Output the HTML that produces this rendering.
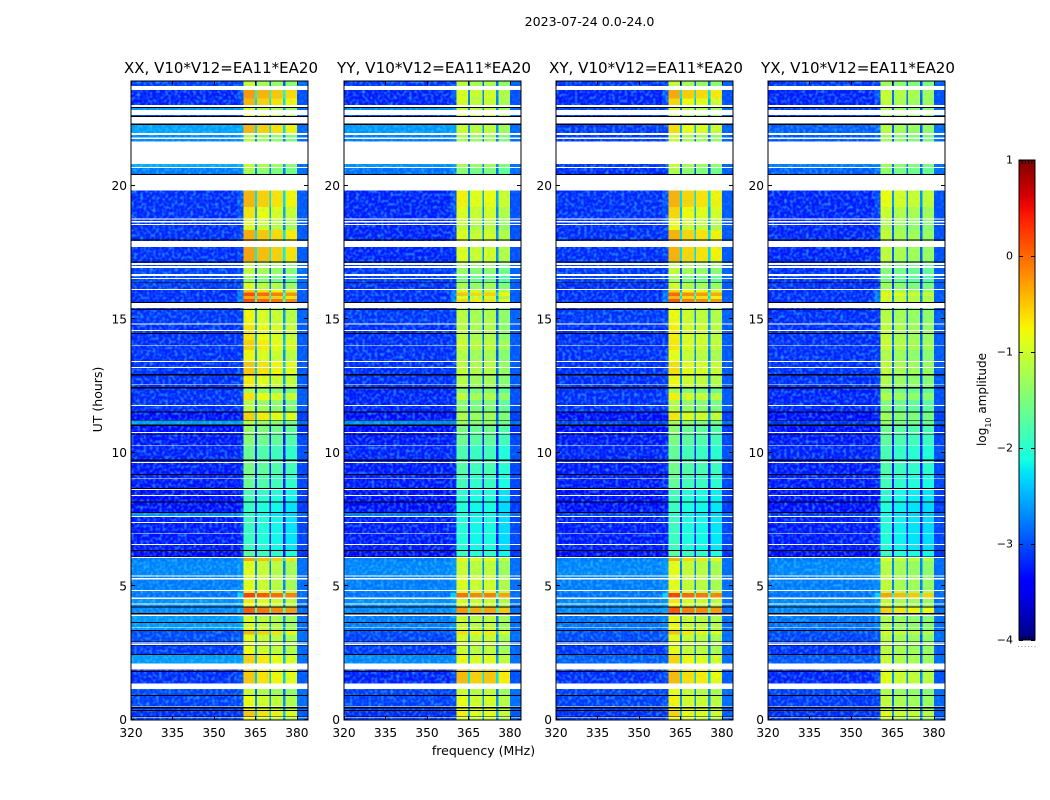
<!DOCTYPE html>
<html lang="en">
<head>
<meta charset="utf-8">
<title>2023-07-24 dynamic spectra</title>
<style>
html,body{margin:0;padding:0;background:#fff;}
svg{display:block;}
text{font-family:"DejaVu Sans","Liberation Sans",sans-serif;fill:#000;}
</style>
</head>
<body>
<svg id="chart" xmlns="http://www.w3.org/2000/svg" width="1050" height="800" viewBox="0 0 1050 800">
  <defs>
    <filter id="speckle" x="0" y="0" width="100%" height="100%">
      <feTurbulence type="fractalNoise" baseFrequency="0.32" numOctaves="1" seed="4"/>
      <feColorMatrix type="matrix" values="0 0 0 0 0.05  0 0 0 0 0.72  0 0 0 0 1  2.6 0 0 0 -1.1"/>
    </filter>
    <linearGradient id="jet-gradient" x1="0" y1="1" x2="0" y2="0"></linearGradient>
  </defs>
  <text x="589.5" y="26" text-anchor="middle" font-size="12.6">2023-07-24 0.0-24.0</text>
  <text x="483.5" y="755" text-anchor="middle" font-size="12.5">frequency (MHz)</text>
  <text transform="translate(102,399.5) rotate(-90)" text-anchor="middle" font-size="12.5">UT (hours)</text>
  <text transform="translate(986,399.5) rotate(-90)" text-anchor="middle" font-size="12">log<tspan baseline-shift="sub" font-size="8">10</tspan> amplitude</text>
  <g id="panels"></g>
  <g id="colorbar"></g>
</svg>
<script>
// ---------- Data (log10 amplitude per UT row, top of the plot to the bottom) ----------
const panelTitles = ["XX, V10*V12=EA11*EA20", "YY, V10*V12=EA11*EA20", "XY, V10*V12=EA11*EA20", "YX, V10*V12=EA11*EA20"];
const freqTicks = [320, 335, 350, 365, 380];
const utTicks = [0, 5, 10, 15, 20];
const colorbarTicks = [1, 0, -1, -2, -3, -4];

// UT hour at which each row starts (its top); each row runs down to the next entry.
const utRowTop = [23.93,23.58,23.25,22.94,22.64,22.26,21.96,20.80,20.65,19.81,19.20,18.76,18.33,17.70,17.17,17.10,16.61,16.34,16.08,16.00,15.86,15.75,15.42,15.34,14.80,14.22,13.84,13.39,12.88,12.39,12.23,11.97,11.49,11.19,10.99,10.67,10.27,9.69,9.16,8.63,8.13,7.74,7.58,6.95,6.31,6.05,5.94,5.36,4.81,4.74,4.52,4.31,4.20,3.88,3.31,3.18,2.76,2.42,1.88,1.14,0.88,0.31,0.08];

// Background level, 320-358 MHz
const lowXX = [-3.1,-3.25,-3.25,-2.65,-3.1,-2.6,-2.75,-2.55,-2.8,-3.2,-3.2,-3.2,-3.2,-3.2,-3.2,-3.1,-3.1,-3.15,-3.2,-3.2,-3.2,-3.2,-3.2,-3.15,-3.2,-3.2,-3.2,-3.2,-3.2,-3.2,-3.2,-3.2,-3.35,-2.65,-3.4,-3.3,-3.25,-3.3,-3.3,-3.35,-3.35,-2.7,-3.3,-3.3,-3.4,-2.8,-2.75,-2.8,-2.8,-2.85,-2.7,-2.75,-2.75,-2.65,-3.05,-3.05,-3.15,-2.65,-3.2,-3.05,-3.1,-3.2,-3.1];
const lowYY = [-3.15,-3.25,-3.25,-2.7,-3.1,-2.65,-2.8,-2.7,-2.85,-3.25,-3.25,-3.25,-3.25,-3.25,-3.2,-3.15,-3.15,-3.2,-3.2,-3.2,-3.2,-3.2,-3.2,-3.15,-3.2,-3.2,-3.2,-3.2,-3.2,-3.25,-3.25,-3.25,-3.35,-2.75,-3.4,-3.3,-3.25,-3.3,-3.3,-3.35,-3.35,-2.8,-3.3,-3.3,-3.4,-2.8,-2.75,-2.8,-2.8,-2.85,-2.7,-2.75,-2.75,-2.8,-3.05,-3.1,-3.15,-2.75,-3.25,-3.1,-3.1,-3.2,-3.15];
const lowXY = [-3.15,-3.25,-3.25,-3.1,-3.15,-3.15,-3.15,-3.15,-3.2,-3.2,-3.2,-3.2,-3.2,-3.2,-3.2,-3.15,-3.15,-3.2,-3.2,-3.2,-3.2,-3.2,-3.2,-3.15,-3.2,-3.2,-3.2,-3.2,-3.2,-3.2,-3.2,-3.2,-3.35,-3.1,-3.4,-3.3,-3.25,-3.3,-3.3,-3.35,-3.35,-3.1,-3.3,-3.3,-3.4,-2.8,-2.75,-2.8,-2.8,-2.85,-2.75,-2.75,-2.75,-2.85,-3.05,-3.05,-3.15,-2.95,-3.2,-3.1,-3.1,-3.2,-3.15];
const lowYX = [-3.15,-3.25,-3.25,-3.1,-3.15,-2.95,-3,-2.8,-2.95,-3.25,-3.25,-3.25,-3.25,-3.25,-3.2,-3.2,-3.2,-3.2,-3.2,-3.2,-3.2,-3.2,-3.2,-3.2,-3.2,-3.2,-3.2,-3.2,-3.2,-3.25,-3.25,-3.25,-3.35,-3.15,-3.4,-3.3,-3.25,-3.3,-3.3,-3.35,-3.35,-3.15,-3.3,-3.3,-3.4,-2.8,-2.75,-2.8,-2.8,-2.85,-2.75,-2.75,-2.75,-2.85,-3.05,-3.1,-3.2,-3,-3.25,-3.1,-3.15,-3.2,-3.15];

// Mean level of the bright 361-380 MHz sub-bands
const highXX = [-1.25,-0.45,-0.6,-1.1,-1,-0.6,-1.3,-1.2,-1.4,-0.6,-0.85,-1.05,-0.55,-0.5,-1,-1.25,-1.5,-1.1,-0.7,-0.05,-0.5,0,-1.2,-0.95,-0.85,-0.75,-0.95,-0.7,-0.9,-1.4,-0.85,-1.3,-0.75,-1.3,-1.5,-1.6,-1.8,-1.7,-1.8,-2,-2.1,-2.2,-2.1,-2.1,-1.9,-0.5,-1.05,-1.05,-0.9,0.05,-0.9,-1,-0.1,-1.1,-0.6,-1.05,-1,-0.75,-0.7,-1.2,-1,-0.7,-1];
const highYY = [-1.2,-1,-1.05,-1.1,-1,-1.1,-1.3,-1.3,-1.5,-0.85,-1,-1.15,-1,-1,-1.2,-1.4,-1.6,-1.3,-1,-0.6,-1,-0.7,-1.3,-1.2,-1.2,-1.1,-1.25,-1.15,-1.25,-1.5,-1.2,-1.5,-1.3,-1.4,-1.6,-1.7,-1.9,-1.85,-1.95,-2.1,-2.15,-2.2,-2.15,-2.15,-2,-0.85,-1.1,-1,-0.9,-0.15,-1,-1.05,-0.35,-1.1,-0.75,-1.05,-1.1,-0.9,-0.55,-1.1,-0.95,-0.85,-1.1];
const highXY = [-1.25,-0.55,-0.8,-1.1,-1.2,-0.85,-1.2,-1.2,-1.4,-0.6,-0.8,-1,-0.6,-0.6,-1.1,-1.25,-1.5,-1.15,-0.8,-0.2,-0.6,-0.1,-1.2,-1,-0.95,-0.9,-1.05,-0.85,-1,-1.45,-0.95,-1.35,-0.9,-1.4,-1.6,-1.7,-1.85,-1.75,-1.85,-2.05,-2.1,-2.2,-2.1,-2.1,-1.9,-0.6,-1.05,-1.05,-0.95,0,-0.9,-1,-0.1,-1,-0.7,-1.05,-1.05,-0.8,-0.65,-1.05,-0.95,-0.8,-1];
const highYX = [-1.4,-1.15,-1.2,-1.3,-1.3,-1.25,-1.4,-1.4,-1.5,-0.95,-1.15,-1.3,-1.2,-1.2,-1.4,-1.55,-1.65,-1.4,-1.2,-0.9,-1.1,-1,-1.4,-1.25,-1.2,-1.15,-1.3,-1.2,-1.3,-1.55,-1.3,-1.6,-1.4,-1.5,-1.7,-1.8,-1.95,-1.9,-2,-2.15,-2.2,-2.3,-2.2,-2.2,-2.05,-1,-1.25,-1.2,-1.1,-0.45,-1.2,-1.2,-0.7,-1.3,-1,-1.25,-1.2,-1.15,-1,-1.3,-1.2,-1,-1.2];

// Lift of the 358-361 MHz shoulder above the background
const shoulderLift = [0.05,0.3,0.15,0.05,0.05,0.05,0.05,0.05,0.05,0.2,0.15,0.1,0.1,0.08,0.05,0.05,0.05,0.05,0.3,0.45,0.35,0.45,0.05,0.05,0.05,0.05,0.05,0.08,0.1,0.05,0.05,0.05,0.05,0.05,0.05,0.05,0.05,0.05,0.05,0.05,0.05,0.05,0.05,0.05,0.05,0.1,0.08,0.08,0.1,0.5,0.1,0.1,0.15,0.1,0.08,0.08,0.08,0.05,0.15,0.05,0.05,0.05,0.05];

// Sub-band tilt (in dex) relative to the row mean
const subbandTiltXX = [0.2, 0.05, -0.05, -0.15];
const subbandTiltYY = [0.12, 0, 0.05, -0.15];
const subbandTiltXY = [0.22, 0.02, -0.05, -0.14];
const subbandTiltYX = [0.15, 0.02, -0.05, -0.1];

// Flagged time ranges (UT hours, high then low)
const noDataSpans = [[23.72,23.58],[23.01,22.94],[22.83,22.64],[22.56,22.32],[21.96,21.90],[21.80,21.75],[21.64,20.80],[20.69,20.65],[20.39,19.81],[18.76,18.73],[18.67,18.62],[18.56,18.52],[17.93,17.70],[17.10,17.03],[16.98,16.91],[16.68,16.61],[16.53,16.49],[16.12,16.08],[15.60,15.42],[14.83,14.80],[14.59,14.55],[14.01,13.98],[13.43,13.39],[13.20,13.16],[12.55,12.52],[11.78,11.74],[10.76,10.73],[10.29,10.27],[9.64,9.61],[9.03,9.01],[8.63,8.59],[8.40,8.37],[7.62,7.58],[7.40,7.36],[6.97,6.95],[6.57,6.53],[6.09,6.05],[5.40,5.36],[5.30,5.25],[4.85,4.81],[4.56,4.52],[4.35,4.31],[3.94,3.88],[3.45,3.42],[2.89,2.85],[2.82,2.79],[2.10,1.88],[1.34,1.14],[0.49,0.47],[0.10,0.08]];
const zeroSpans = [[22.94,22.91],[22.60,22.56],[22.32,22.26],[20.43,20.39],[17.98,17.94],[17.15,17.11],[16.37,16.34],[15.64,15.60],[15.37,15.34],[14.47,14.44],[12.94,12.88],[12.45,12.39],[11.54,11.49],[11.22,11.19],[11.05,10.99],[10.70,10.67],[9.74,9.69],[9.19,9.16],[8.67,8.63],[8.16,8.13],[7.77,7.74],[6.35,6.31],[6.12,6.10],[4.23,4.20],[3.98,3.94],[3.65,3.62],[3.35,3.31],[2.92,2.90],[2.78,2.76],[2.46,2.42],[1.82,1.78],[0.91,0.88],[0.46,0.42],[0.36,0.31],[0.14,0.12]];

// ---------- Layout and axis functions ----------
const panelLeftEdges = [131, 344, 556, 768];
const plotWidth = 177, plotTop = 81, plotBottom = 720;
const zeroY = 719.5, pixelsPerHour = 26.7;
const freqMin = 320, freqMax = 384, ampMin = -4, ampMax = 1;
const lowEdge = 358.5, shoulderEdge = 360.6;
const bandEdges = [[360.6, 364.8], [365.6, 370], [370.7, 375], [375.8, 380]];
const wingEdge = 380;

function xScale(panel, freq) { return panelLeftEdges[panel] + (freq - freqMin) / (freqMax - freqMin) * plotWidth; }
function yScale(hour) { return zeroY - hour * pixelsPerHour; }
function cbarY(value) { return 160 + (ampMax - value) * 96; }

function piece(pts, t) {
  for (let i = 1; i < pts.length; i++) {
    if (t <= pts[i][0]) {
      const a = pts[i - 1], b = pts[i];
      return a[1] + (b[1] - a[1]) * (t - a[0]) / (b[0] - a[0]);
    }
  }
  return pts[pts.length - 1][1];
}
const jetR = [[0,0],[0.35,0],[0.66,1],[0.89,1],[1,0.5]];
const jetG = [[0,0],[0.125,0],[0.375,1],[0.64,1],[0.91,0],[1,0]];
const jetB = [[0,0.5],[0.11,1],[0.34,1],[0.65,0],[1,0]];
function colorFor(amp) {
  const t = Math.max(0, Math.min(1, (amp - ampMin) / (ampMax - ampMin)));
  return "rgb(" + Math.round(piece(jetR, t) * 255) + "," + Math.round(piece(jetG, t) * 255) + "," + Math.round(piece(jetB, t) * 255) + ")";
}

const NS = "http://www.w3.org/2000/svg";
function make(tag, parent, attrs) {
  const el = document.createElementNS(NS, tag);
  for (const k in attrs) el.setAttribute(k, attrs[k]);
  parent.appendChild(el);
  return el;
}
function cell(parent, x0, x1, y0, y1, fill) {
  const el = make("rect", parent, { x: x0, y: y0, width: Math.max(0, x1 - x0), height: Math.max(0, y1 - y0), fill: fill, "shape-rendering": "crispEdges" });
  
  
  return el;
}

// ---------- Panels ----------
const lowSeries = [lowXX, lowYY, lowXY, lowYX];
const highSeries = [highXX, highYY, highXY, highYX];
const tiltSeries = [subbandTiltXX, subbandTiltYY, subbandTiltXY, subbandTiltYX];
const panelsRoot = document.getElementById("panels");

panelTitles.forEach(function (title, p) {
  const g = make("g", panelsRoot, {});
  
  
  const left = panelLeftEdges[p], right = left + plotWidth;

  // white base = no data
  const base = make("rect", g, { x: left, y: plotTop, width: plotWidth, height: plotBottom - plotTop, fill: "#fff" });
  
  

  utRowTop.forEach(function (top, r) {
    const bottom = r + 1 < utRowTop.length ? utRowTop[r + 1] : 0;
    const y0 = Math.max(plotTop, yScale(top)), y1 = Math.min(plotBottom, yScale(bottom) + (r + 1 < utRowTop.length ? 0 : 0.5));
    const low = lowSeries[p][r], high = highSeries[p][r];
    const gapAmp = Math.max(low, high - 1.7);
    cell(g, xScale(p, freqMin), xScale(p, lowEdge), y0, y1, colorFor(low));
    cell(g, xScale(p, lowEdge), xScale(p, shoulderEdge), y0, y1, colorFor(low + shoulderLift[r]));
    bandEdges.forEach(function (edge, b) {
      cell(g, xScale(p, edge[0]), xScale(p, edge[1]), y0, y1, colorFor(high + tiltSeries[p][b]));
      const next = b + 1 < bandEdges.length ? bandEdges[b + 1][0] : null;
      if (next !== null) cell(g, xScale(p, edge[1]), xScale(p, next), y0, y1, colorFor(gapAmp));
    });
    cell(g, xScale(p, wingEdge), xScale(p, freqMax), y0, y1, colorFor(Math.min(low + 0.25, -2.85)));
  });

  // mottled look of the receiver noise
  const tex = make("rect", g, { x: left, y: plotTop, width: xScale(p, shoulderEdge) - left, height: plotBottom - plotTop, filter: "url(#speckle)", opacity: 0.6 });
  
  
  const tex2 = make("rect", g, { x: xScale(p, shoulderEdge), y: plotTop, width: right - xScale(p, shoulderEdge), height: plotBottom - plotTop, filter: "url(#speckle)", opacity: 0.22 });
  
  

  noDataSpans.forEach(function (s) {
    const el = cell(g, left, right, yScale(s[0]), yScale(s[1]), "#fff");
    
  });
  zeroSpans.forEach(function (s) {
    const el = cell(g, left, right, yScale(s[0]), yScale(s[1]), "#000");
    
  });

  // frame
  const frame = make("rect", g, { x: left, y: plotTop, width: plotWidth, height: plotBottom - plotTop, fill: "none", stroke: "#000", "stroke-width": 1 });
  
  

  // x ticks
  freqTicks.forEach(function (f) {
    const x = Math.round(xScale(p, f)) + 0.5;
    [[plotBottom, plotBottom - 4], [plotTop, plotTop + 4]].forEach(function (seg) {
      const t = make("line", g, { x1: x, x2: x, y1: seg[0], y2: seg[1], stroke: "#000", "stroke-width": 1 });
      
      
    });
    const lab = make("text", g, { x: xScale(p, f), y: 737, "text-anchor": "middle", "font-size": 12.2 });
    lab.textContent = String(f);
    
    
  });

  // y ticks
  utTicks.forEach(function (h) {
    const y = Math.round(yScale(h)) - 0.5;
    [[left, left + 4], [right, right - 4]].forEach(function (seg) {
      const t = make("line", g, { x1: seg[0], x2: seg[1], y1: y, y2: y, stroke: "#000", "stroke-width": 1 });
      
      
    });
    const lab = make("text", g, { x: left - 4, y: yScale(h) + 4.5, "text-anchor": "end", "font-size": 12.2 });
    lab.textContent = String(h);
    
    
  });

  const ttl = make("text", g, { x: left - 8 + 1, y: 73, "font-size": 15, textLength: 194, lengthAdjust: "spacingAndGlyphs" });
  ttl.textContent = title;
  
  
});

// ---------- Colorbar ----------
const cbarRoot = document.getElementById("colorbar");
const grad = document.getElementById("jet-gradient");
for (let i = 0; i <= 40; i++) {
  const t = i / 40;
  make("stop", grad, { offset: t, "stop-color": colorFor(ampMin + t * (ampMax - ampMin)) });
}
const cbarLeft = 1019, cbarRight = 1035;
const bar = make("rect", cbarRoot, { x: cbarLeft, y: cbarY(ampMax), width: cbarRight - cbarLeft, height: cbarY(ampMin) - cbarY(ampMax), fill: "url(#jet-gradient)", stroke: "#000", "stroke-width": 1 });



colorbarTicks.forEach(function (v) {
  const y = Math.round(cbarY(v)) + 0.5;
  [[cbarLeft, cbarLeft + 4], [cbarRight, cbarRight - 4]].forEach(function (seg) {
    const t = make("line", cbarRoot, { x1: seg[0], x2: seg[1], y1: y, y2: y, stroke: "#000", "stroke-width": 1 });
    
    
  });
  const lab = make("text", cbarRoot, { x: 1013, y: cbarY(v) + 3.5, "text-anchor": "end", "font-size": 11 });
  lab.textContent = v < 0 ? "\u2212" + Math.abs(v) : String(v);
  
  
});

for (let i = 1; i <= 4; i++) {
  const x = cbarLeft + i * (cbarRight - cbarLeft) / 5;
  [[cbarY(ampMax), cbarY(ampMax) + 4], [cbarY(ampMin), cbarY(ampMin) - 4]].forEach(function (seg) {
    const t = make("line", cbarRoot, { x1: x, x2: x, y1: seg[0], y2: seg[1], stroke: "#000", "stroke-width": 1 });
    
    
  });
}
for (let i = 0; i <= 5; i++) {
  const d = make("rect", cbarRoot, { x: 1018 + i * 3.3, y: 646, width: 1, height: 1, fill: "#999" });
  
  
}
</script>
</body>
</html>
